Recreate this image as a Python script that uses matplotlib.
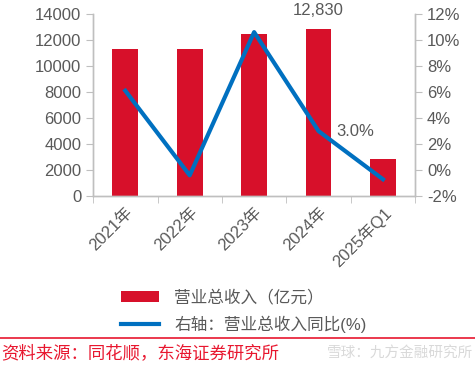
import matplotlib
matplotlib.use('Agg')
import matplotlib.pyplot as plt
from matplotlib.ticker import FuncFormatter
import numpy as np

plt.rcParams['font.family'] = ['Liberation Sans', 'Noto Sans CJK SC', 'DejaVu Sans']
plt.rcParams['axes.unicode_minus'] = False

# 데이터
categories = ['2021年', '2022年', '2023年', '2024年', '2025年Q1']
revenue = [11300, 11270, 12460, 12830, 2820]       # 营业总收入（亿元）
yoy = [6.1, -0.4, 10.6, 3.0, -0.7]                 # 同比(%)

GREY = '#595959'
SPINE = '#BFBFBF'
RED = '#D7102A'
BLUE = '#0070C0'

fig = plt.figure(figsize=(4.75, 3.66), dpi=100)
ax = fig.add_axes([0.196, 0.464, 0.678, 0.498])
ax2 = ax.twinx()

x = np.arange(len(categories))
bars = ax.bar(x, revenue, width=0.4, color=RED, label='营业总收入（亿元）', zorder=2)
line, = ax2.plot(x, yoy, color=BLUE, lw=3, label='右轴：营业总收入同比(%)', zorder=3)

ax.set_xlim(-0.5, len(categories) - 0.5)
ax.set_ylim(0, 14000)
ax.set_yticks(range(0, 14001, 2000))
ax2.set_ylim(-2, 12)
ax2.set_yticks(range(-2, 13, 2))
ax2.yaxis.set_major_formatter(FuncFormatter(lambda v, p: f'{v:.0f}%'))

ax.set_xticks(x)
ax.set_xticklabels(categories, rotation=45, ha='right', rotation_mode='anchor')
ax.set_xticks(np.arange(-0.5, len(categories)), minor=True)
ax.tick_params(axis='x', which='major', length=0, pad=6, labelsize=12, labelcolor=GREY)
ax.tick_params(axis='x', which='minor', length=5, color=SPINE, direction='out')
ax.tick_params(axis='y', length=5, color=SPINE, labelsize=12, labelcolor=GREY)
ax2.tick_params(axis='y', length=5, color=SPINE, labelsize=12, labelcolor=GREY)

for a in (ax, ax2):
    a.spines['top'].set_visible(False)
    for s in ('left', 'right', 'bottom'):
        a.spines[s].set_color(SPINE)
        a.spines[s].set_linewidth(1)

ax.annotate(f'{revenue[3]:,}', (x[3], revenue[3]), xytext=(0, 8), textcoords='offset points',
            ha='center', va='bottom', fontsize=12, color=GREY)
ax2.annotate(f'{yoy[3]:.1f}%', (x[3], yoy[3]), xytext=(13, 0), textcoords='offset points',
             ha='left', va='center', fontsize=12, color=GREY)

fig.legend(handles=[bars, line], loc='upper left', bbox_to_anchor=(0.237, 0.232),
           frameon=False, fontsize=12, labelcolor=GREY, handlelength=2.3,
           handletextpad=0.9, labelspacing=0.6, borderpad=0)

fig.add_artist(plt.Line2D([0, 1], [1 - 338 / 366] * 2, color='#E8172F', lw=1.2))
fig.text(0.002, 1 - 353 / 366, '资料来源：同花顺，东海证券研究所', color='#E8172F',
         fontsize=12.5, ha='left', va='center')
fig.text(0.995, 1 - 353 / 366, '雪球：九方金融研究所', color='#D9D9D9',
         fontsize=10.5, ha='right', va='center')

fig.savefig('out.png', dpi=100)
